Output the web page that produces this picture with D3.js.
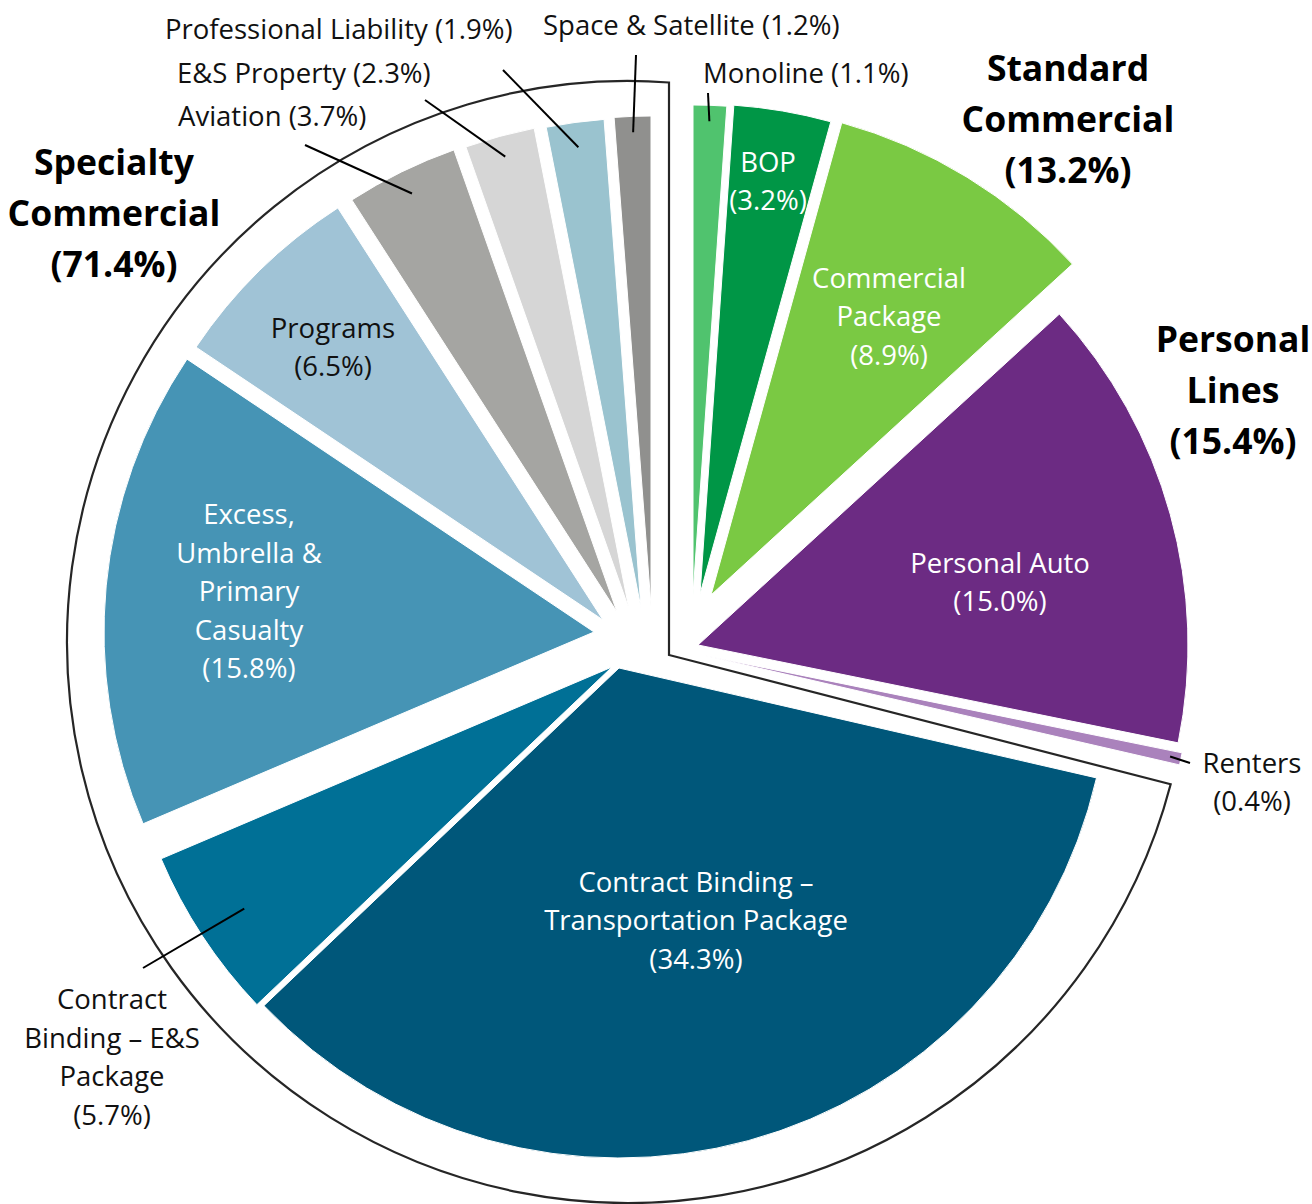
<!DOCTYPE html>
<html>
<head>
<meta charset="utf-8">
<script src="https://cdn.jsdelivr.net/npm/d3@7/dist/d3.min.js"></script>
<style>
  body { margin: 0; background: #fff; }
  svg { display: block; }
  text { font-family: 'Open Sans', sans-serif; }
</style>
</head>
<body>
<div id="chart"></div>
<script>
// data, clockwise from 12 o'clock
const categories = [
  'Monoline', 'BOP', 'Commercial Package', 'Personal Auto', 'Renters',
  'Contract Binding – Transportation Package', 'Contract Binding – E&S Package',
  'Excess, Umbrella & Primary Casualty', 'Programs', 'Aviation', 'E&S Property',
  'Professional Liability', 'Space & Satellite'
];
const shares = [1.1, 3.2, 8.9, 15.0, 0.4, 34.3, 5.7, 15.8, 6.5, 3.7, 2.3, 1.9, 1.2];
const segmentOf = [
  'Standard Commercial', 'Standard Commercial', 'Standard Commercial',
  'Personal Lines', 'Personal Lines',
  'Specialty Commercial', 'Specialty Commercial', 'Specialty Commercial', 'Specialty Commercial',
  'Specialty Commercial', 'Specialty Commercial', 'Specialty Commercial', 'Specialty Commercial'
];
const segments = ['Standard Commercial', 'Personal Lines', 'Specialty Commercial'];

// label wording (line breaks) and whether the share sits on the same line
const labelNames = [
  ['Monoline'], ['BOP'], ['Commercial', 'Package'], ['Personal Auto'], ['Renters'],
  ['Contract Binding –', 'Transportation Package'], ['Contract', 'Binding – E&S', 'Package'],
  ['Excess,', 'Umbrella &', 'Primary', 'Casualty'], ['Programs'], ['Aviation'],
  ['E&S Property'], ['Professional Liability'], ['Space & Satellite']
];
const shareInline = [true, false, false, false, false, false, false, false, false, true, true, true, true];
const segmentNames = [['Standard', 'Commercial'], ['Personal', 'Lines'], ['Specialty', 'Commercial']];

// styles / layout
const colors = ['#50c36e', '#009646', '#7ac943', '#6c2b83', '#aa82bc', '#00577a', '#007096',
  '#4694b5', '#a0c3d6', '#a5a5a2', '#d6d6d6', '#9ac3cf', '#90908e'];
const width = 1312, height = 1204;
const cx = 669, cy = 655, radius = 490;
// each slice is pulled away from the centre by its own amount
const explode = [[24, -60], [31, -61], [42, -60], [29, -10], [33, 0], [-50, 13], [-57, 12],
  [-75, -23], [-66, -35], [-52, -43], [-40, -46], [-28, -47], [-18, -49]];
// label placement: centre (or start) of the text block, optional leader line
const labelPos = [
  { x: 703, y: 72, anchor: 'start', fill: '#111', lead: { r: 474, to: [708, 93] } },
  { x: 768, y: 180, fill: '#fff' },
  { x: 889, y: 315, fill: '#fff' },
  { x: 1000, y: 581, fill: '#fff' },
  { x: 1252, y: 781, fill: '#111', lead: { r: 479, to: [1190, 763] } },
  { x: 696, y: 919, fill: '#fff' },
  { x: 112, y: 1056, fill: '#111', lead: { r: 440, to: [143, 968] } },
  { x: 249, y: 590, fill: '#fff' },
  { x: 333, y: 346, fill: '#111' },
  { x: 178, y: 115, anchor: 'start', fill: '#111', lead: { r: 466, to: [305, 145] } },
  { x: 177, y: 72, anchor: 'start', fill: '#111', lead: { r: 469, to: [425, 100] } },
  { x: 165, y: 28, anchor: 'start', fill: '#111', lead: { r: 465, to: [503, 70] } },
  { x: 543, y: 24, anchor: 'start', fill: '#111', lead: { r: 474, to: [636, 55] } }
];
const segmentPos = [{ x: 1068, y: 118 }, { x: 1233, y: 389 }, { x: 114, y: 212 }];
// outline circle is a little off the pie centre; its lower edge sits a bit below the slice edge
const outline = { dx: -41, dy: -13, r: 561, startPad: 0.026 };
const fontSize = 27.5, lineH = 38.5, titleSize = 35.5, titleH = 51;

const fmt = v => `(${d3.format('.1f')(v)}%)`;
const data = categories.map((c, i) => ({ category: c, value: shares[i], segment: segmentOf[i], i }));

const svg = d3.select('#chart').append('svg')
  .attr('width', width)
  .attr('height', height);

const pie = d3.pie().sort(null).value(d => d.value);
const arcs = pie(data);
const arc = d3.arc().innerRadius(0).outerRadius(radius);

// outline around the specialty commercial slices
const spec = arcs.filter(a => a.data.segment === 'Specialty Commercial');
const a0 = d3.min(spec, a => a.startAngle) + outline.startPad;
const a1 = d3.max(spec, a => a.endAngle);
const ocx = cx + outline.dx, ocy = cy + outline.dy;
function rayHit(angle) {
  const dx = Math.sin(angle), dy = -Math.cos(angle);
  const px = cx - ocx, py = cy - ocy;
  const b = px * dx + py * dy;
  const t = -b + Math.sqrt(b * b - (px * px + py * py - outline.r * outline.r));
  return [cx + t * dx, cy + t * dy];
}
const pStart = rayHit(a0), pEnd = rayHit(a1);
const path = d3.path();
path.moveTo(cx, cy);
path.lineTo(pEnd[0], pEnd[1]);
path.arc(ocx, ocy, outline.r,
  Math.atan2(pEnd[1] - ocy, pEnd[0] - ocx),
  Math.atan2(pStart[1] - ocy, pStart[0] - ocx), true);
path.closePath();
svg.append('path')
  .attr('d', path.toString())
  .attr('fill', '#fff')
  .attr('stroke', '#262626')
  .attr('stroke-width', 2.2)
  .attr('stroke-linejoin', 'miter');

// slices
svg.append('g').selectAll('path')
  .data(arcs)
  .enter()
  .append('path')
  .attr('transform', d => `translate(${cx + explode[d.index][0]}, ${cy + explode[d.index][1]})`)
  .attr('d', arc)
  .attr('fill', d => colors[d.index])
  .attr('stroke', '#fff')
  .attr('stroke-width', 1);

// leader lines
const leads = arcs.filter(d => labelPos[d.index].lead);
svg.append('g').selectAll('line')
  .data(leads)
  .enter()
  .append('line')
  .attr('x1', d => {
    const m = (d.startAngle + d.endAngle) / 2;
    return cx + explode[d.index][0] + Math.sin(m) * labelPos[d.index].lead.r;
  })
  .attr('y1', d => {
    const m = (d.startAngle + d.endAngle) / 2;
    return cy + explode[d.index][1] - Math.cos(m) * labelPos[d.index].lead.r;
  })
  .attr('x2', d => labelPos[d.index].lead.to[0])
  .attr('y2', d => labelPos[d.index].lead.to[1])
  .attr('stroke', '#000')
  .attr('stroke-width', 2);

// slice labels
function lines(i) {
  const ls = labelNames[i].slice();
  if (shareInline[i]) ls[ls.length - 1] += ' ' + fmt(shares[i]);
  else ls.push(fmt(shares[i]));
  return ls;
}
const labels = svg.append('g').selectAll('text')
  .data(data)
  .enter()
  .append('text')
  .attr('font-size', fontSize)
  .attr('fill', d => labelPos[d.i].fill)
  .attr('text-anchor', d => labelPos[d.i].anchor || 'middle')
  .attr('dominant-baseline', 'central');
labels.each(function (d) {
  const ls = lines(d.i), p = labelPos[d.i];
  d3.select(this).selectAll('tspan')
    .data(ls)
    .enter()
    .append('tspan')
    .attr('x', p.x)
    .attr('y', (t, k) => p.y + (k - (ls.length - 1) / 2) * lineH)
    .text(t => t);
});

// segment titles
const segTotals = d3.rollup(data, v => d3.sum(v, d => d.value), d => d.segment);
segments.forEach((s, i) => {
  const ls = segmentNames[i].concat([fmt(segTotals.get(s))]);
  const t = svg.append('text')
    .attr('font-size', titleSize)
    .attr('font-weight', 700)
    .attr('fill', '#000')
    .attr('text-anchor', 'middle')
    .attr('dominant-baseline', 'central');
  t.selectAll('tspan')
    .data(ls)
    .enter()
    .append('tspan')
    .attr('x', segmentPos[i].x)
    .attr('y', (l, k) => segmentPos[i].y + (k - 1) * titleH)
    .text(l => l);
});
</script>
</body>
</html>
